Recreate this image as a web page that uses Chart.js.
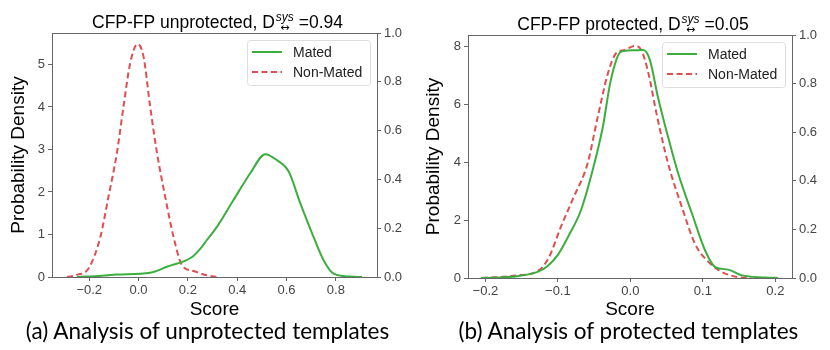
<!DOCTYPE html>
<html>
<head>
<meta charset="utf-8">
<script src="https://cdn.jsdelivr.net/npm/chart.js@4.4.0/dist/chart.umd.min.js"></script>
<style>
  body { margin: 0; background: #fff; width: 830px; height: 350px; position: relative; overflow: hidden; }
  .panel { position: absolute; top: 0; width: 415px; height: 325px; }
  .caption { position: absolute; top: 317px; width: 415px; text-align: center; font-family: Lato, sans-serif; font-size: 22.5px; line-height: 28px; color: #000; white-space: nowrap; }
</style>
</head>
<body>
<div class="panel" style="left:0"><canvas id="chart-a" width="415" height="325"></canvas></div>
<div class="panel" style="left:415px"><canvas id="chart-b" width="415" height="325"></canvas></div>
<div class="caption" style="left:0">(a) Analysis of unprotected templates</div>
<div class="caption" style="left:421px">(b) Analysis of protected templates</div>
<script>
// (a) unprotected
const scoresA_mated = [-0.25, -0.15, -0.088, 0.047, 0.115, 0.217, 0.25, 0.277, 0.318, 0.385, 0.453, 0.514, 0.561, 0.609, 0.656, 0.71, 0.751, 0.791, 0.859, 0.906];
const densA_mated = [0, 0.03, 0.06, 0.1, 0.24, 0.47, 0.66, 0.87, 1.18, 1.81, 2.44, 2.89, 2.75, 2.48, 1.73, 0.94, 0.39, 0.08, 0.01, 0];
const scoresA_non = [-0.29, -0.25, -0.203, -0.155, -0.122, -0.088, -0.061, -0.034, -0.004, 0.02, 0.047, 0.075, 0.108, 0.142, 0.176, 0.223, 0.277, 0.318];
const densA_non = [0, 0.05, 0.2, 0.94, 1.89, 2.91, 4.01, 5.03, 5.48, 5.19, 4.01, 2.91, 1.89, 0.94, 0.28, 0.14, 0.04, 0];

// (b) protected
const scoresB_mated = [-0.206, -0.156, -0.128, -0.115, -0.1, -0.086, -0.068, -0.052, -0.038, -0.027, -0.013, 0.003, 0.018, 0.027, 0.038, 0.052, 0.066, 0.085, 0.103, 0.117, 0.135, 0.154, 0.186, 0.204];
const densB_mated = [0, 0.06, 0.21, 0.4, 0.8, 1.42, 2.35, 3.73, 5.22, 6.84, 7.82, 7.87, 7.88, 7.53, 6.26, 4.88, 3.61, 2.23, 0.96, 0.38, 0.29, 0.09, 0.02, 0];
const scoresB_non = [-0.205, -0.156, -0.126, -0.112, -0.096, -0.079, -0.059, -0.045, -0.031, -0.02, -0.008, 0.006, 0.015, 0.025, 0.036, 0.052, 0.071, 0.089, 0.108, 0.126, 0.149, 0.167];
const densB_non = [0, 0.09, 0.27, 0.73, 1.76, 2.75, 3.96, 5.57, 7.07, 7.76, 7.88, 8.02, 7.88, 7.07, 5.69, 3.96, 2.46, 1.19, 0.55, 0.21, 0.03, 0];

const xTicksA = [-0.2, 0, 0.2, 0.4, 0.6, 0.8];
const yTicksA = [0, 1, 2, 3, 4, 5];
const xTicksB = [-0.2, -0.1, 0, 0.1, 0.2];
const yTicksB = [0, 2, 4, 6, 8];
const rightTicks = [0, 0.2, 0.4, 0.6, 0.8, 1.0];

const legendLabels = ["Mated", "Non-Mated"];

const GREEN = "#3cae3f";
const RED = "#de4f4f";
const SPINE = "#666";
const SANS = "'Liberation Sans', Arial, sans-serif";

const toPoints = (xs, ys) => xs.map((x, i) => ({ x: x, y: ys[i] }));
const fmt = (v) => (v < -1e-9 ? "\u2212" + Math.abs(v).toFixed(1) : Math.abs(v).toFixed(1));

// title with D^{sys}_{<->}
const titlePlugin = {
  id: "mathTitle",
  afterDraw(chart, args, opts) {
    const ctx = chart.ctx;
    const area = chart.chartArea;
    const big = "17.5px " + SANS;
    const small = "italic 12px " + SANS;
    const arrow = "11px 'DejaVu Sans', sans-serif";
    ctx.save();
    ctx.fillStyle = "#000";
    ctx.textBaseline = "alphabetic";
    ctx.font = big;
    const w1 = ctx.measureText(opts.before).width;
    const w3 = ctx.measureText(opts.after).width;
    ctx.font = small;
    const ws = ctx.measureText("sys").width;
    ctx.font = arrow;
    const wa = ctx.measureText("\u2194").width;
    const w2 = Math.max(ws, wa) + 1;
    let x = (area.left + area.right) / 2 + 3 - (w1 + w2 + w3) / 2;
    const y = opts.y;
    ctx.textAlign = "left";
    ctx.font = big;
    ctx.fillText(opts.before, x, y);
    x += w1;
    ctx.font = small;
    ctx.fillText("sys", x + 1, y - 7);
    ctx.font = arrow;
    ctx.fillText("\u2194", x + 1 + (ws - wa) / 2, y + 3);
    x += w2;
    ctx.font = big;
    ctx.fillText(opts.after, x, y);
    ctx.restore();
  }
};

// top spine + legend box inside the plot
const framePlugin = {
  id: "frameLegend",
  afterDraw(chart) {
    const ctx = chart.ctx;
    const a = chart.chartArea;
    ctx.save();
    ctx.strokeStyle = SPINE;
    ctx.lineWidth = 1;
    ctx.beginPath();
    ctx.moveTo(a.left, a.top + 0.5);
    ctx.lineTo(a.right, a.top + 0.5);
    ctx.stroke();

    const bw = 123, bh = 45;
    const bx = a.right - 7 - bw, by = a.top + 7;
    ctx.fillStyle = "rgba(255,255,255,0.8)";
    ctx.strokeStyle = "#dddddd";
    ctx.beginPath();
    ctx.roundRect(bx + 0.5, by + 0.5, bw, bh, 3);
    ctx.fill();
    ctx.stroke();

    ctx.font = "14px " + SANS;
    ctx.textBaseline = "middle";
    ctx.textAlign = "left";
    chart.data.datasets.forEach((ds, i) => {
      const ly = by + 12 + i * 20;
      ctx.strokeStyle = ds.borderColor;
      ctx.lineWidth = 2;
      ctx.setLineDash(ds.borderDash || []);
      ctx.beginPath();
      ctx.moveTo(bx + 5, ly);
      ctx.lineTo(bx + 35, ly);
      ctx.stroke();
      ctx.setLineDash([]);
      ctx.fillStyle = "#222";
      ctx.fillText(legendLabels[i], bx + 46, ly + 1);
    });
    ctx.restore();
  }
};

const makeChart = (id, cfg) => {
  let chartStatus = Chart.getChart(id);
  if (chartStatus != undefined) {
    chartStatus.destroy();
  }
  const tickFont = { family: SANS, size: 13 };
  const titleFont = { family: SANS, size: 19 };
  new Chart(id, {
    type: "line",
    data: {
      datasets: [
        {
          label: legendLabels[0],
          data: toPoints(cfg.mx, cfg.my),
          borderColor: GREEN,
          borderWidth: 2,
          pointRadius: 0,
          cubicInterpolationMode: "monotone",
          yAxisID: "y",
        },
        {
          label: legendLabels[1],
          data: toPoints(cfg.nx, cfg.ny),
          borderColor: RED,
          borderWidth: 2,
          borderDash: [6, 3.5],
          pointRadius: 0,
          cubicInterpolationMode: "monotone",
          yAxisID: "y",
        },
      ],
    },
    options: {
      responsive: false,
      animation: false,
      devicePixelRatio: 1,
      layout: { padding: { top: cfg.top, left: 0, right: 0, bottom: 0 } },
      plugins: {
        legend: { display: false },
        tooltip: { enabled: false },
        mathTitle: { before: cfg.before, after: cfg.after, y: cfg.titleY },
      },
      scales: {
        x: {
          type: "linear",
          min: cfg.xmin,
          max: cfg.xmax,
          afterBuildTicks: (s) => { s.ticks = cfg.xticks.map((v) => ({ value: v })); },
          afterFit: (s) => { s.height = 325 - cfg.bottom; },
          ticks: { callback: (v) => fmt(v), font: tickFont, color: "#444", padding: 2, maxRotation: 0 },
          grid: { drawOnChartArea: false, drawTicks: true, tickLength: 4, color: SPINE },
          border: { color: SPINE },
          title: { display: true, text: "Score", font: titleFont, color: "#000", padding: { top: 0, bottom: 4 } },
        },
        y: {
          position: "left",
          min: 0,
          max: cfg.ymax,
          afterBuildTicks: (s) => { s.ticks = cfg.yticks.map((v) => ({ value: v })); },
          afterFit: (s) => { s.width = cfg.left; },
          ticks: { callback: (v) => String(v), font: tickFont, color: "#444", padding: 3 },
          grid: { drawOnChartArea: false, drawTicks: true, tickLength: 4, color: SPINE },
          border: { color: SPINE },
          title: { display: true, text: "Probability Density", font: titleFont, color: "#000", padding: { top: 7, bottom: 0 } },
        },
        y2: {
          position: "right",
          min: 0,
          max: 1,
          afterBuildTicks: (s) => { s.ticks = rightTicks.map((v) => ({ value: v })); },
          afterFit: (s) => { s.width = 38; },
          ticks: { callback: (v) => v.toFixed(1), font: tickFont, color: "#444", padding: 3 },
          grid: { drawOnChartArea: false, drawTicks: true, tickLength: 4, color: SPINE },
          border: { color: SPINE },
        },
      },
    },
    plugins: [titlePlugin, framePlugin],
  });
};

makeChart("chart-a", {
  mx: scoresA_mated, my: densA_mated, nx: scoresA_non, ny: densA_non,
  xmin: -0.351, xmax: 0.967, ymax: 5.74,
  xticks: xTicksA, yticks: yTicksA,
  top: 33, bottom: 277, left: 52,
  before: "CFP-FP unprotected, D", after: " =0.94", titleY: 28,
});

makeChart("chart-b", {
  mx: scoresB_mated, my: densB_mated, nx: scoresB_non, ny: densB_non,
  xmin: -0.224, xmax: 0.223, ymax: 8.4,
  xticks: xTicksB, yticks: yTicksB,
  top: 35, bottom: 278, left: 53,
  before: "CFP-FP protected, D", after: " =0.05", titleY: 30,
});
</script>
</body>
</html>
